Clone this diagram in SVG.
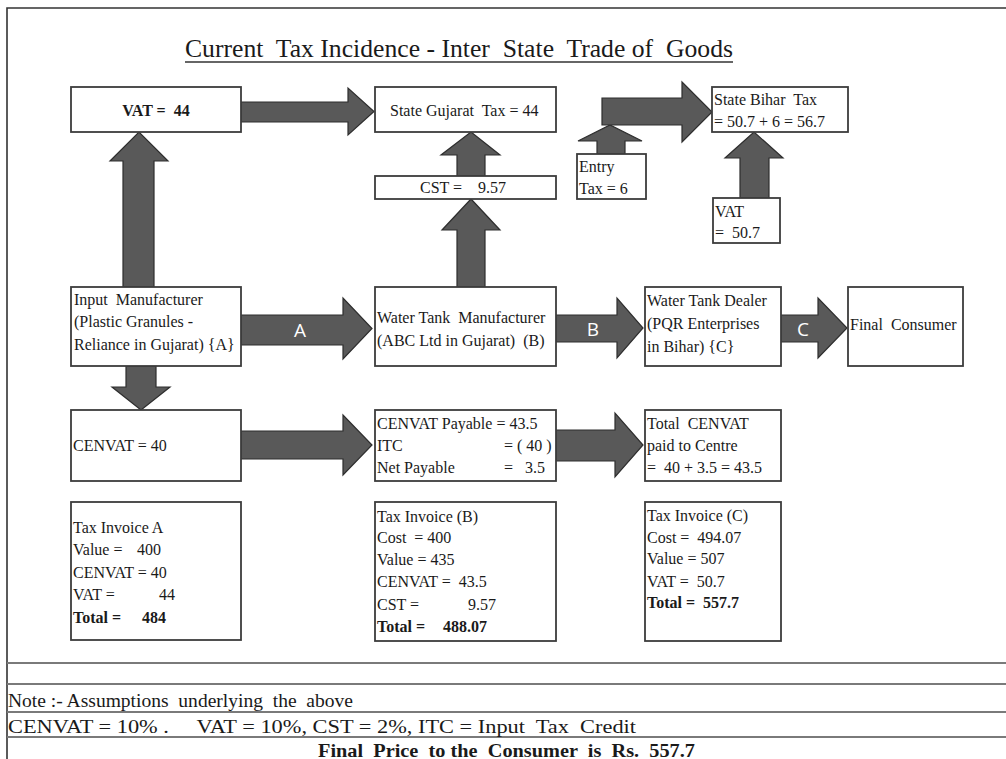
<svg xmlns="http://www.w3.org/2000/svg" width="1006" height="759" viewBox="0 0 1006 759">
<style>
text{white-space:pre}
.bx{fill:#fff;stroke:#3c3c3c;stroke-width:1.8}
.ar{fill:#595959;stroke:#2e2e2e;stroke-width:1.2;stroke-linejoin:miter}
.t{font-family:"Liberation Serif","Times New Roman",serif;font-size:16px;fill:#1a1a1a}
.b{font-weight:bold}
.lb{font-family:"Open Sans","Liberation Sans",sans-serif;font-size:19px;fill:#fff;text-anchor:middle}
.ft{font-family:"Liberation Serif","Times New Roman",serif;font-size:19px;fill:#1a1a1a}
.ttl{font-family:"Liberation Serif","Times New Roman",serif;font-size:25px;fill:#1a1a1a}
.hl{stroke:#7a7a7a;stroke-width:2.2;fill:none}
</style>
<rect width="1006" height="759" fill="#fff"/>
<path d="M7,759 V8 H1006" fill="none" stroke="#333" stroke-width="1.6"/>
<g id="title">
<text x="185" y="57" class="ttl" textLength="548" lengthAdjust="spacingAndGlyphs">Current  Tax Incidence - Inter  State  Trade of  Goods</text>
<line x1="185" y1="62" x2="733" y2="62" stroke="#333" stroke-width="1.6"/>
</g>
<g id="connectors">
<path class="ar" d="M241,102 H348 V88 L374,111.5 L348,135 V122 H241 Z"/>
<path class="ar" d="M123,287 V161 H110 L139,132 L168,161 H154 V287 Z"/>
<path class="ar" d="M457,176 V155 H441 L471,132 L500,155 H485 V176 Z"/>
<path class="ar" d="M457,287 V230 H442 L471,199 L500,230 H485 V287 Z"/>
<path class="ar" d="M597,154 V141 H578 L610,125 L642,141 H625 V154 Z"/>
<path class="ar" d="M602,125 V98 H682 V82 L712,112 L682,142 V125 Z"/>
<path class="ar" d="M740,198 V158 H725 L754,132 L783,158 H769 V198 Z"/>
<path class="ar" d="M241,315 H343 V298 L372,328.5 L343,359 V345 H241 Z"/>
<path class="ar" d="M556,315 H617 V298 L643,328 L617,358 V342 H556 Z"/>
<path class="ar" d="M781,315 H818 V298 L847,328 L818,358 V342 H781 Z"/>
<path class="ar" d="M126,366 V387 H112 L141,410 L170,387 H156 V366 Z"/>
<path class="ar" d="M241,431 H343 V415 L372,445 L343,475 V459 H241 Z"/>
<path class="ar" d="M556,430 H615 V413 L643,445 L615,477 V461 H556 Z"/>
<text class="lb" x="300" y="337">A</text>
<text class="lb" x="593" y="336">B</text>
<text class="lb" x="803" y="336">C</text>
</g>
<g id="vat44">
<rect class="bx" x="71" y="87" width="170" height="45"/>
<text class="t b" x="156" y="116" text-anchor="middle">VAT =  44</text>
</g>
<g id="stateGujarat">
<rect class="bx" x="375" y="87" width="181" height="45"/>
<text class="t" x="390" y="116">State Gujarat  Tax = 44</text>
</g>
<g id="cst">
<rect class="bx" x="375" y="176" width="181" height="23"/>
<text class="t" x="420" y="193">CST =    9.57</text>
</g>
<g id="entryTax">
<rect class="bx" x="577" y="154" width="69" height="45"/>
<text class="t" x="579" y="172">Entry</text>
<text class="t" x="579" y="194">Tax = 6</text>
</g>
<g id="stateBihar">
<rect class="bx" x="712" y="87" width="136" height="45"/>
<text class="t" x="714" y="105">State Bihar  Tax</text>
<text class="t" x="714" y="127">= 50.7 + 6 = 56.7</text>
</g>
<g id="vat507">
<rect class="bx" x="713" y="198" width="67" height="45"/>
<text class="t" x="715" y="217">VAT</text>
<text class="t" x="715" y="238">=  50.7</text>
</g>
<g id="inputManufacturer">
<rect class="bx" x="71" y="287" width="170" height="79"/>
<text class="t" x="74" y="305">Input  Manufacturer</text>
<text class="t" x="74" y="327">(Plastic Granules -</text>
<text class="t" x="74" y="350">Reliance in Gujarat) {A}</text>
</g>
<g id="waterTankManufacturer">
<rect class="bx" x="375" y="287" width="181" height="79"/>
<text class="t" x="377" y="323">Water Tank  Manufacturer</text>
<text class="t" x="377" y="346">(ABC Ltd in Gujarat)  (B)</text>
</g>
<g id="waterTankDealer">
<rect class="bx" x="645" y="287" width="136" height="79"/>
<text class="t" x="647" y="306">Water Tank Dealer</text>
<text class="t" x="647" y="329">(PQR Enterprises</text>
<text class="t" x="647" y="352">in Bihar) {C}</text>
</g>
<g id="finalConsumer">
<rect class="bx" x="848" y="287" width="115" height="79"/>
<text class="t" x="850" y="330">Final  Consumer</text>
</g>
<g id="cenvat40">
<rect class="bx" x="71" y="410" width="170" height="71"/>
<text class="t" x="73" y="451">CENVAT = 40</text>
</g>
<g id="cenvatPayable">
<rect class="bx" x="375" y="410" width="181" height="71"/>
<text class="t" x="377" y="429">CENVAT Payable = 43.5</text>
<text class="t" x="377" y="451">ITC</text>
<text class="t" x="504" y="451">= ( 40 )</text>
<text class="t" x="377" y="473">Net Payable</text>
<text class="t" x="504" y="473">=   3.5</text>
</g>
<g id="totalCenvat">
<rect class="bx" x="645" y="410" width="136" height="71"/>
<text class="t" x="647" y="429">Total  CENVAT</text>
<text class="t" x="647" y="451">paid to Centre</text>
<text class="t" x="647" y="473">=  40 + 3.5 = 43.5</text>
</g>
<g id="taxInvoiceA">
<rect class="bx" x="71" y="502" width="170" height="138"/>
<text class="t" x="73" y="533">Tax Invoice A</text>
<text class="t" x="73" y="555">Value = </text><text class="t" x="137" y="555">400</text>
<text class="t" x="73" y="578">CENVAT = 40</text>
<text class="t" x="73" y="600">VAT = </text><text class="t" x="159" y="600">44</text>
<text class="t b" x="73" y="623">Total = </text><text class="t b" x="142" y="623">484</text>
</g>
<g id="taxInvoiceB">
<rect class="bx" x="375" y="502" width="181" height="139"/>
<text class="t" x="377" y="522">Tax Invoice (B)</text>
<text class="t" x="377" y="543">Cost  = 400</text>
<text class="t" x="377" y="565">Value = 435</text>
<text class="t" x="377" y="587">CENVAT =  43.5</text>
<text class="t" x="377" y="610">CST = </text><text class="t" x="468" y="610">9.57</text>
<text class="t b" x="377" y="632">Total = </text><text class="t b" x="443" y="632">488.07</text>
</g>
<g id="taxInvoiceC">
<rect class="bx" x="645" y="502" width="136" height="139"/>
<text class="t" x="647" y="521">Tax Invoice (C)</text>
<text class="t" x="647" y="543">Cost =  494.07</text>
<text class="t" x="647" y="564">Value = 507</text>
<text class="t" x="647" y="587">VAT =  50.7</text>
<text class="t b" x="647" y="608">Total =  557.7</text>
</g>
<g id="footer">
<line class="hl" x1="7" y1="663" x2="1006" y2="663"/>
<line class="hl" x1="7" y1="684" x2="1006" y2="684"/>
<line class="hl" x1="7" y1="712" x2="1006" y2="712"/>
<line class="hl" x1="7" y1="737" x2="1006" y2="737"/>
<text class="ft" x="8" y="707" textLength="345" lengthAdjust="spacingAndGlyphs">Note :- Assumptions  underlying  the  above</text>
<text class="ft" x="8" y="733" textLength="628" lengthAdjust="spacingAndGlyphs">CENVAT = 10% .     VAT = 10%, CST = 2%, ITC = Input  Tax  Credit</text>
<text class="ft b" x="318" y="757" textLength="377" lengthAdjust="spacingAndGlyphs">Final  Price  to the  Consumer  is  Rs.  557.7</text>
</g>
</svg>
